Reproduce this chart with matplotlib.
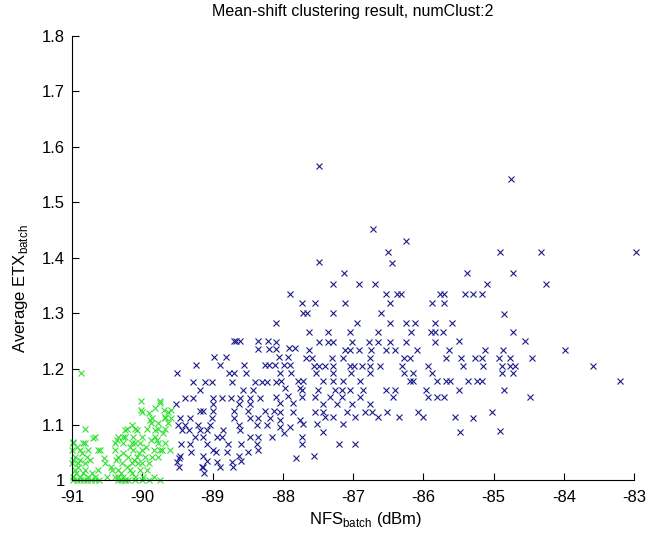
import numpy as np
import matplotlib
matplotlib.use("Agg")
import matplotlib.pyplot as plt

plt.rcParams['font.family'] = ['Liberation Sans', 'DejaVu Sans']
plt.rcParams['mathtext.fontset'] = 'custom'
plt.rcParams['mathtext.rm'] = 'Liberation Sans'
plt.rcParams['axes.unicode_minus'] = False

# cluster 1 (blue): (NFS, ETX)
blue_pts = [
    (-87.49, 1.565), (-84.75, 1.542), (-86.71, 1.452), (-86.24, 1.431),
    (-86.50, 1.411), (-84.91, 1.411), (-84.33, 1.411), (-82.97, 1.411),
    (-87.49, 1.392), (-86.44, 1.390), (-87.13, 1.372), (-85.38, 1.372),
    (-84.72, 1.372), (-85.09, 1.353), (-84.25, 1.353), (-87.29, 1.353),
    (-86.91, 1.353), (-86.69, 1.353), (-87.90, 1.335), (-86.53, 1.335),
    (-86.38, 1.335), (-86.32, 1.335), (-85.76, 1.335), (-85.71, 1.335),
    (-85.41, 1.335), (-85.29, 1.335), (-85.17, 1.335),
    (-87.73, 1.318), (-87.54, 1.318), (-87.12, 1.318), (-86.48, 1.318),
    (-85.87, 1.318), (-85.71, 1.318),
    (-87.71, 1.300), (-87.65, 1.300), (-87.29, 1.300), (-86.60, 1.300),
    (-84.85, 1.299),
    (-88.09, 1.283), (-86.94, 1.283), (-86.47, 1.283), (-86.24, 1.283),
    (-86.12, 1.283), (-85.84, 1.283), (-85.59, 1.283),
    (-87.62, 1.266), (-87.36, 1.266), (-87.04, 1.266), (-86.65, 1.266),
    (-86.17, 1.266), (-85.89, 1.266), (-85.83, 1.266), (-85.72, 1.266),
    (-84.73, 1.267),
    (-88.70, 1.250), (-88.66, 1.250), (-88.61, 1.250), (-88.35, 1.250),
    (-88.21, 1.250), (-88.09, 1.249), (-87.48, 1.249), (-87.35, 1.249),
    (-87.28, 1.249), (-87.02, 1.249), (-86.78, 1.249), (-86.65, 1.249),
    (-86.47, 1.249), (-86.24, 1.249), (-85.83, 1.249), (-85.49, 1.250),
    (-84.55, 1.250),
    (-88.35, 1.236), (-88.19, 1.236), (-88.10, 1.236), (-87.91, 1.237),
    (-87.83, 1.237), (-87.62, 1.235), (-87.12, 1.235), (-87.04, 1.235),
    (-86.91, 1.235), (-86.75, 1.235), (-86.53, 1.235), (-86.41, 1.235),
    (-86.09, 1.235), (-85.63, 1.235), (-85.12, 1.235), (-84.86, 1.235),
    (-83.98, 1.235),
    (-88.98, 1.221), (-88.81, 1.221), (-88.05, 1.221), (-87.92, 1.221),
    (-87.67, 1.219), (-87.59, 1.219), (-87.30, 1.219), (-87.14, 1.219),
    (-86.76, 1.219), (-86.28, 1.219), (-86.19, 1.219), (-85.68, 1.219),
    (-85.47, 1.219), (-85.26, 1.219), (-85.17, 1.219), (-84.92, 1.219),
    (-84.76, 1.219), (-84.46, 1.219),
    (-89.23, 1.207), (-88.89, 1.207), (-88.55, 1.207), (-88.25, 1.207),
    (-88.19, 1.207), (-88.11, 1.207), (-87.99, 1.207), (-87.90, 1.207),
    (-87.56, 1.205), (-87.48, 1.205), (-87.40, 1.205), (-87.28, 1.205),
    (-87.04, 1.205), (-86.99, 1.205), (-86.87, 1.205), (-86.76, 1.205),
    (-86.62, 1.205), (-86.31, 1.205), (-85.93, 1.205), (-85.43, 1.205),
    (-85.15, 1.205), (-84.88, 1.205), (-84.77, 1.205), (-84.69, 1.205),
    (-83.59, 1.205),
    (-89.50, 1.192), (-88.76, 1.192), (-88.70, 1.192), (-88.52, 1.192),
    (-88.04, 1.192), (-87.89, 1.192), (-87.53, 1.192), (-87.28, 1.192),
    (-87.03, 1.192), (-86.76, 1.192), (-86.28, 1.192), (-86.14, 1.192),
    (-85.88, 1.192), (-84.88, 1.192), (-84.72, 1.192),
    (-89.28, 1.177), (-89.11, 1.177), (-89.01, 1.177), (-88.73, 1.177),
    (-88.40, 1.177), (-88.30, 1.177), (-88.22, 1.177), (-88.10, 1.177),
    (-88.02, 1.179), (-87.78, 1.179), (-87.71, 1.178), (-87.43, 1.178),
    (-87.29, 1.178), (-87.14, 1.178), (-86.90, 1.178), (-86.19, 1.178),
    (-86.14, 1.178), (-85.81, 1.178), (-85.62, 1.178), (-85.36, 1.178),
    (-85.24, 1.178), (-85.67, 1.178), (-85.17, 1.178), (-83.20, 1.178),
    (-89.18, 1.163), (-88.56, 1.163), (-88.42, 1.163), (-87.97, 1.165),
    (-87.76, 1.165), (-87.73, 1.163), (-87.50, 1.163), (-87.26, 1.163),
    (-87.16, 1.163), (-87.04, 1.163), (-86.86, 1.163), (-86.53, 1.163),
    (-86.40, 1.163), (-85.96, 1.163), (-85.49, 1.163), (-84.85, 1.163),
    (-89.39, 1.147), (-89.28, 1.147), (-89.00, 1.147), (-88.86, 1.147),
    (-88.74, 1.147), (-88.61, 1.147), (-88.47, 1.147), (-88.32, 1.147),
    (-88.09, 1.149), (-87.92, 1.151), (-87.73, 1.149), (-87.54, 1.149),
    (-87.33, 1.149), (-87.16, 1.149), (-86.90, 1.149), (-86.43, 1.149),
    (-85.93, 1.149), (-85.81, 1.149), (-85.70, 1.149), (-84.48, 1.149),
    (-89.52, 1.137), (-89.00, 1.137), (-88.63, 1.137), (-88.47, 1.137),
    (-88.04, 1.138), (-87.85, 1.138), (-87.43, 1.137), (-87.23, 1.137),
    (-87.02, 1.137), (-86.76, 1.137),
    (-89.18, 1.124), (-89.13, 1.124), (-88.99, 1.124), (-88.70, 1.124),
    (-88.49, 1.124), (-88.25, 1.124), (-88.13, 1.124), (-88.04, 1.123),
    (-87.86, 1.123), (-87.54, 1.123), (-87.43, 1.123), (-87.09, 1.123),
    (-86.83, 1.123), (-86.73, 1.123), (-86.52, 1.123), (-86.08, 1.123),
    (-85.02, 1.123),
    (-89.46, 1.111), (-89.32, 1.111), (-89.01, 1.111), (-88.70, 1.111),
    (-88.47, 1.111), (-88.35, 1.111), (-88.18, 1.111), (-88.04, 1.109),
    (-87.75, 1.109), (-87.40, 1.113), (-87.28, 1.113), (-86.97, 1.113),
    (-86.64, 1.113), (-86.34, 1.113), (-86.01, 1.113), (-85.55, 1.113),
    (-85.29, 1.112),
    (-89.49, 1.099), (-89.39, 1.099), (-89.20, 1.099), (-89.04, 1.099),
    (-88.63, 1.099), (-88.37, 1.099), (-88.23, 1.099), (-88.04, 1.096),
    (-87.90, 1.096), (-87.71, 1.101), (-87.52, 1.101), (-87.14, 1.101),
    (-89.44, 1.090), (-89.33, 1.090), (-89.18, 1.090), (-89.08, 1.090),
    (-88.85, 1.090), (-88.61, 1.090), (-87.99, 1.084), (-87.43, 1.087),
    (-85.48, 1.087), (-84.91, 1.088),
    (-89.25, 1.077), (-89.13, 1.077), (-88.94, 1.077), (-88.87, 1.077),
    (-88.47, 1.077), (-88.35, 1.077), (-88.16, 1.077), (-87.73, 1.078),
    (-89.45, 1.065), (-89.32, 1.065), (-89.08, 1.065), (-88.78, 1.065),
    (-88.59, 1.065), (-88.37, 1.065), (-87.73, 1.065), (-87.20, 1.065),
    (-86.97, 1.065),
    (-88.99, 1.054), (-88.35, 1.054), (-89.30, 1.050), (-88.95, 1.050),
    (-88.80, 1.050), (-88.50, 1.050),
    (-89.46, 1.043), (-89.13, 1.043), (-88.63, 1.043), (-89.48, 1.039),
    (-89.08, 1.035), (-88.60, 1.035), (-87.81, 1.040), (-87.56, 1.043),
    (-89.50, 1.033), (-88.94, 1.033), (-88.73, 1.033),
    (-89.13, 1.024), (-89.48, 1.024), (-89.15, 1.024), (-88.90, 1.024),
    (-88.71, 1.024), (-89.12, 1.013),
]

# cluster 2 (green)
green_pts = [
    (-90.87, 1.193),
    (-90.02, 1.142), (-89.75, 1.142), (-89.75, 1.138),
    (-90.02, 1.126), (-89.69, 1.126), (-89.59, 1.126), (-89.82, 1.130),
    (-90.01, 1.123), (-89.63, 1.123), (-89.90, 1.120),
    (-89.86, 1.111), (-89.68, 1.111), (-89.59, 1.111), (-89.68, 1.114),
    (-89.88, 1.102), (-89.77, 1.102), (-89.63, 1.102), (-89.89, 1.108),
    (-90.15, 1.100),
    (-90.81, 1.092), (-90.22, 1.092), (-90.10, 1.092), (-89.94, 1.092),
    (-89.77, 1.092), (-89.68, 1.092), (-90.25, 1.090), (-90.08, 1.090),
    (-89.82, 1.090), (-89.71, 1.084),
    (-90.68, 1.078), (-90.34, 1.078), (-90.25, 1.078), (-90.13, 1.078),
    (-90.01, 1.078), (-89.82, 1.078), (-90.70, 1.075), (-90.27, 1.078),
    (-90.36, 1.072), (-89.79, 1.072), (-89.88, 1.072),
    (-90.98, 1.066), (-90.84, 1.066), (-90.81, 1.066), (-90.39, 1.066),
    (-90.27, 1.066), (-90.15, 1.066), (-90.03, 1.066), (-89.77, 1.066),
    (-89.68, 1.066), (-90.98, 1.069), (-90.10, 1.066),
    (-90.93, 1.060), (-90.18, 1.060), (-89.95, 1.060),
    (-91.00, 1.054), (-90.89, 1.054), (-90.77, 1.054), (-90.63, 1.054),
    (-90.39, 1.054), (-90.13, 1.054), (-90.01, 1.054), (-89.84, 1.054),
    (-89.72, 1.054), (-90.60, 1.054), (-89.75, 1.054), (-89.61, 1.054),
    (-90.86, 1.048), (-90.28, 1.048), (-90.05, 1.048),
    (-90.96, 1.042), (-90.79, 1.042), (-90.34, 1.042), (-90.20, 1.042),
    (-90.08, 1.042), (-89.96, 1.042), (-89.77, 1.042), (-89.86, 1.042),
    (-90.55, 1.040),
    (-90.98, 1.036), (-90.89, 1.036), (-90.75, 1.036), (-90.12, 1.036),
    (-90.38, 1.036),
    (-91.00, 1.030), (-90.91, 1.030), (-90.81, 1.030), (-90.53, 1.030),
    (-90.29, 1.030), (-90.15, 1.030), (-90.06, 1.030), (-89.91, 1.030),
    (-90.00, 1.030),
    (-90.92, 1.024), (-90.22, 1.024), (-90.45, 1.024),
    (-90.96, 1.018), (-90.81, 1.018), (-90.63, 1.018), (-90.43, 1.018),
    (-90.34, 1.018), (-90.17, 1.018), (-90.03, 1.018), (-89.93, 1.018),
    (-90.95, 1.012), (-90.85, 1.012), (-90.72, 1.012), (-90.30, 1.012),
    (-90.15, 1.012),
    (-90.98, 1.006), (-90.89, 1.006), (-90.77, 1.006), (-90.67, 1.006),
    (-90.39, 1.006), (-90.34, 1.006), (-90.27, 1.006), (-90.10, 1.006),
    (-89.99, 1.006), (-89.84, 1.006), (-90.50, 1.006),
    (-90.98, 1.000), (-90.93, 1.000), (-90.88, 1.000), (-90.83, 1.000),
    (-90.78, 1.000), (-90.73, 1.000), (-90.68, 1.000), (-90.62, 1.000),
    (-90.35, 1.000), (-90.30, 1.000), (-90.25, 1.000), (-90.20, 1.000),
    (-90.10, 1.000), (-90.00, 1.000), (-89.90, 1.000), (-89.75, 1.000),
    (-90.24, 1.000),
]

x_ticks = [-91, -90, -89, -88, -87, -86, -85, -84, -83]
y_ticks = [1.0, 1.1, 1.2, 1.3, 1.4, 1.5, 1.6, 1.7, 1.8]
y_tick_labels = ['1', '1.1', '1.2', '1.3', '1.4', '1.5', '1.6', '1.7', '1.8']

blue = np.array(blue_pts)
green = np.array(green_pts)

fig = plt.figure(figsize=(6.49, 5.34), dpi=100)
ax = fig.add_axes([0.111, 0.101, 0.866, 0.832])

ax.plot(blue[:, 0], blue[:, 1], 'x', color='#1c1c8c', ms=5, mew=0.8,
        linestyle='none', clip_on=False)
ax.plot(green[:, 0], green[:, 1], 'x', color='#30e030', ms=5, mew=0.8,
        linestyle='none', clip_on=False)

ax.set_xlim(-91, -83)
ax.set_ylim(1, 1.8)
ax.set_xticks(x_ticks)
ax.set_xticklabels([str(t) for t in x_ticks])
ax.set_yticks(y_ticks)
ax.set_yticklabels(y_tick_labels)
ax.tick_params(direction='in', length=5, labelsize=12, width=0.8)
ax.tick_params(axis='x', pad=7)
ax.tick_params(axis='y', pad=5)
ax.spines['top'].set_visible(False)
ax.spines['right'].set_visible(False)

ax.set_title('Mean-shift clustering result, numClust:2', fontsize=11.5, pad=14)
ax.set_xlabel(r'NFS$_{\mathrm{batch}}$ (dBm)', fontsize=12)
ax.xaxis.set_label_coords(0.523, -0.068)
ax.set_ylabel(r'Average ETX$_{\mathrm{batch}}$', fontsize=12)
ax.yaxis.set_label_coords(-0.075, 0.43)

fig.savefig('out.png', dpi=100)
